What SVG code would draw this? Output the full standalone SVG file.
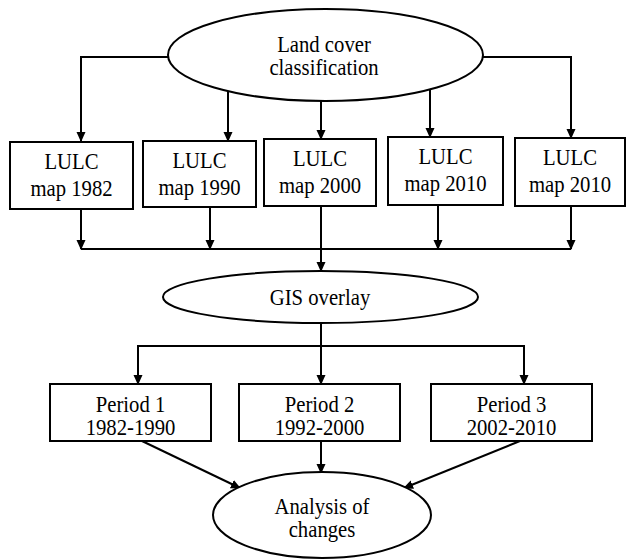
<svg xmlns="http://www.w3.org/2000/svg" width="627" height="560" viewBox="0 0 627 560">
<style>
.shape{fill:#fff;stroke:#000;stroke-width:2}
.ln{fill:none;stroke:#000;stroke-width:2}
text{font-family:"Liberation Serif","Times New Roman",serif;font-size:23px;fill:#000;text-anchor:middle}
</style>
<defs>
<marker id="ah" markerWidth="10" markerHeight="10" refX="9" refY="5" orient="auto" markerUnits="userSpaceOnUse">
<path d="M0,0.5 L10,5 L0,9.5 Z" fill="#000"/>
</marker>
</defs>
<rect width="627" height="560" fill="#fff"/>
<g id="connectors">
<polyline class="ln" points="168,57 81,57 81,141" marker-end="url(#ah)"/>
<polyline class="ln" points="483,57 571,57 571,138" marker-end="url(#ah)"/>
<line class="ln" x1="228" y1="91" x2="228" y2="141" marker-end="url(#ah)"/>
<line class="ln" x1="321" y1="100" x2="321" y2="139" marker-end="url(#ah)"/>
<line class="ln" x1="430" y1="90" x2="430" y2="137" marker-end="url(#ah)"/>
<line class="ln" x1="81" y1="209" x2="81" y2="249" marker-end="url(#ah)"/>
<line class="ln" x1="210" y1="207" x2="210" y2="249" marker-end="url(#ah)"/>
<line class="ln" x1="438" y1="205" x2="438" y2="249" marker-end="url(#ah)"/>
<line class="ln" x1="571" y1="206" x2="571" y2="249" marker-end="url(#ah)"/>
<line class="ln" x1="81" y1="249" x2="571" y2="249"/>
<line class="ln" x1="321" y1="206" x2="321" y2="271" marker-end="url(#ah)"/>
<line class="ln" x1="321" y1="323" x2="321" y2="384" marker-end="url(#ah)"/>
<polyline class="ln" points="138,346 524,346 524,384" marker-end="url(#ah)"/>
<line class="ln" x1="138" y1="345" x2="138" y2="384" marker-end="url(#ah)"/>
<line class="ln" x1="142" y1="441" x2="240" y2="488" marker-end="url(#ah)"/>
<line class="ln" x1="321" y1="441" x2="321" y2="473" marker-end="url(#ah)"/>
<line class="ln" x1="520" y1="441" x2="404" y2="488" marker-end="url(#ah)"/>
</g>
<g id="land-cover">
<ellipse class="shape" cx="325.5" cy="55" rx="157.5" ry="46"/>
<text transform="translate(324,52) scale(0.9,1)">Land cover</text>
<text transform="translate(324,75) scale(0.9,1)">classification</text>
</g>
<g id="lulc-1982">
<rect class="shape" x="10" y="142" width="123" height="67"/>
<text transform="translate(71.5,169) scale(0.9,1)">LULC</text>
<text transform="translate(71.5,196) scale(0.9,1)">map 1982</text>
</g>
<g id="lulc-1990">
<rect class="shape" x="143" y="141" width="113" height="66"/>
<text transform="translate(199.5,168) scale(0.9,1)">LULC</text>
<text transform="translate(199.5,195) scale(0.9,1)">map 1990</text>
</g>
<g id="lulc-2000">
<rect class="shape" x="264" y="139" width="112" height="67"/>
<text transform="translate(320,166) scale(0.9,1)">LULC</text>
<text transform="translate(320,193) scale(0.9,1)">map 2000</text>
</g>
<g id="lulc-2010a">
<rect class="shape" x="388" y="137" width="115" height="68"/>
<text transform="translate(445.5,164) scale(0.9,1)">LULC</text>
<text transform="translate(445.5,191) scale(0.9,1)">map 2010</text>
</g>
<g id="lulc-2010b">
<rect class="shape" x="515" y="138" width="110" height="68"/>
<text transform="translate(570,165) scale(0.9,1)">LULC</text>
<text transform="translate(570,192) scale(0.9,1)">map 2010</text>
</g>
<g id="gis-overlay">
<ellipse class="shape" cx="320.5" cy="297" rx="157.5" ry="26"/>
<text transform="translate(320,305) scale(0.9,1)">GIS overlay</text>
</g>
<g id="period-1">
<rect class="shape" x="50" y="384" width="161" height="57"/>
<text transform="translate(130.5,412) scale(0.9,1)">Period 1</text>
<text transform="translate(130.5,435) scale(0.9,1)">1982-1990</text>
</g>
<g id="period-2">
<rect class="shape" x="239" y="384" width="161" height="57"/>
<text transform="translate(319.5,412) scale(0.9,1)">Period 2</text>
<text transform="translate(319.5,435) scale(0.9,1)">1992-2000</text>
</g>
<g id="period-3">
<rect class="shape" x="431" y="384" width="161" height="57"/>
<text transform="translate(511.5,412) scale(0.9,1)">Period 3</text>
<text transform="translate(511.5,435) scale(0.9,1)">2002-2010</text>
</g>
<g id="analysis">
<ellipse class="shape" cx="322" cy="515" rx="109" ry="43"/>
<text transform="translate(322,514) scale(0.9,1)">Analysis of</text>
<text transform="translate(322,537) scale(0.9,1)">changes</text>
</g>
</svg>
